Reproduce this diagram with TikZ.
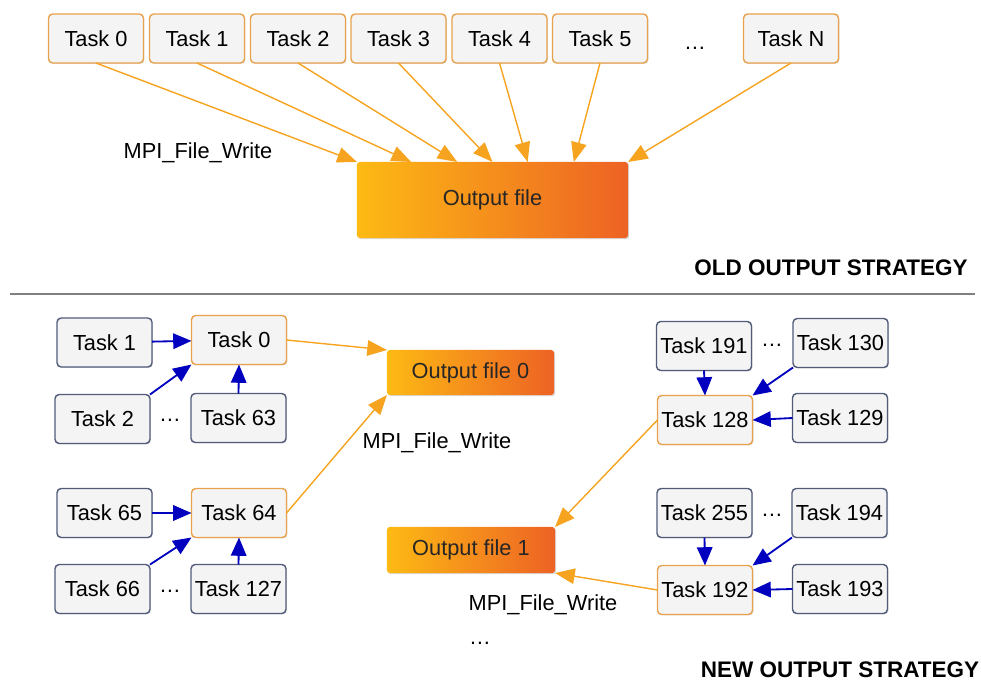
\documentclass[tikz,border=0pt]{standalone}
\usepackage{fontspec}
\setmainfont{Liberation Sans}
\usetikzlibrary{calc}
\usetikzlibrary{arrows.meta}
\usetikzlibrary{shadows}
\definecolor{boxfill}{RGB}{244,244,244}
\definecolor{rootline}{RGB}{232,162,78}
\definecolor{leafline}{RGB}{82,92,122}
\definecolor{wline}{RGB}{246,164,32}
\definecolor{gline}{RGB}{0,0,190}
\definecolor{fileA}{RGB}{253,186,20}
\definecolor{fileB}{RGB}{237,98,36}
\pgfdeclarehorizontalshading{filegrad}{100bp}{color(0bp)=(fileA); color(25bp)=(fileA); color(75bp)=(fileB); color(100bp)=(fileB)}
\tikzstyle{task} = [draw, fill=boxfill, rounded corners=3pt, line width=1pt, minimum width=2.375cm, minimum height=1.225cm, inner sep=0pt, outer sep=0pt, drop shadow={shadow xshift=0.7pt, shadow yshift=-0.7pt, opacity=0.25}]
\tikzstyle{root} = [task, draw=rootline]
\tikzstyle{leaf} = [task, draw=leafline]
\tikzstyle{file} = [rounded corners=2pt, shading=filegrad, text=black!85, inner sep=0pt, outer sep=0pt, drop shadow={shadow xshift=0.8pt, shadow yshift=-0.8pt, opacity=0.3}]
\tikzstyle{write} = [draw=wline, line width=1pt, -{Triangle[length=14pt,width=11pt]}]
\tikzstyle{gather} = [draw=gline, line width=1.3pt, -{Triangle[length=13pt,width=11pt]}]
\tikzstyle{head} = [font=\fontsize{16}{18}\selectfont\bfseries, inner sep=1pt]

\begin{document}
\begin{tikzpicture}[x=0.025cm, y=-0.025cm, font=\fontsize{15.5}{18}\selectfont]
                    \useasboundingbox (0,0) rectangle (981,683);

                    \node[root] (t0) at (96,38.5) {Task 0};
                    \node[root] (t1) at (197,38.5) {Task 1};
                    \node[root] (t2) at (298,38.5) {Task 2};
                    \node[root] (t3) at (398.5,38.5) {Task 3};
                    \node[root] (t4) at (499.5,38.5) {Task 4};
                    \node[root] (t5) at (600,38.5) {Task 5};
                    \node (tdots) at (695,48) {…};
                    \node[root] (tn) at (791,38.5) {Task N};

                    \node[file, minimum width=6.775cm, minimum height=1.9cm] (out) at (492.5,200) {Output file};
                    \foreach \t/\f in {t0/0, t1/0.2, t2/0.37, t3/0.5, t4/0.63, t5/0.8, tn/1}
                        \draw[write] (\t.south) -- ($(out.north west)!\f!(out.north east)$);
                    \node (w) at (198,153) {MPI\_File\_Write};

                    \node[head] (old) at (831,268) {OLD OUTPUT STRATEGY};
                    \draw[black!50, line width=1pt] (10,294) -- (975,294);

                    % first group writes file 0
                    \node[leaf] (a1) at (104.5,342.5) {Task 1};
                    \node[root] (a0) at (239,340) {Task 0};
                    \node[leaf] (a2) at (102.5,419) {Task 2};
                    \node (adots) at (170,420) {…};
                    \node[leaf] (a63) at (238.5,418) {Task 63};
                    \draw[gather] (a1) -- (a0);
                    \draw[gather] (a2.north east) -- (a0.south west);
                    \draw[gather] (a63.north) -- (a0.south);

                    \node[leaf] (b65) at (104.5,513) {Task 65};
                    \node[root] (b64) at (239,513) {Task 64};
                    \node[leaf] (b66) at (102.5,589) {Task 66};
                    \node (bdots) at (170,591) {…};
                    \node[leaf] (b127) at (238.5,589) {Task 127};
                    \draw[gather] (b65) -- (b64);
                    \draw[gather] (b66.north east) -- (b64.south west);
                    \draw[gather] (b127.north) -- (b64.south);

                    \node[file, minimum width=4.175cm, minimum height=1.125cm] (o0) at (470.5,372.5) {Output file 0};
                    \draw[write] (a0.east) -- (o0.north west);
                    \draw[write] (b64.east) -- (o0.south west);
                    \node (w0) at (437,443) {MPI\_File\_Write};

                    % second group writes file 1
                    \node[leaf] (c191) at (704,346) {Task 191};
                    \node (cdots) at (772,345) {…};
                    \node[leaf] (c130) at (840.5,343) {Task 130};
                    \node[root] (c128) at (705,420) {Task 128};
                    \node[leaf] (c129) at (840,418) {Task 129};
                    \draw[gather] (c191.south) -- (c128.north);
                    \draw[gather] (c130.south west) -- (c128.north east);
                    \draw[gather] (c129.west) -- (c128.east);

                    \node[leaf] (d255) at (704.5,513) {Task 255};
                    \node (ddots) at (772,515) {…};
                    \node[leaf] (d194) at (839.5,513) {Task 194};
                    \node[root] (d192) at (705,590) {Task 192};
                    \node[leaf] (d193) at (840,589) {Task 193};
                    \draw[gather] (d255.south) -- (d192.north);
                    \draw[gather] (d194.south west) -- (d192.north east);
                    \draw[gather] (d193.west) -- (d192.east);

                    \node[file, minimum width=4.2cm, minimum height=1.15cm] (o1) at (471,550) {Output file 1};
                    \draw[write] (c128.west) -- (o1.north east);
                    \draw[write] (d192.west) -- (o1.south east);
                    \node (w1) at (543,605) {MPI\_File\_Write};
                    \node (odots) at (480,643) {…};

                    \node[head] (new) at (840,670) {NEW OUTPUT STRATEGY};
\end{tikzpicture}
\end{document}
